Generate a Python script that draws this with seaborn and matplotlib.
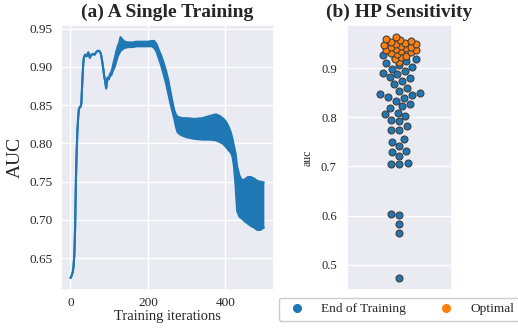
import numpy as np
import pandas as pd
import matplotlib
matplotlib.use("Agg")
import matplotlib.pyplot as plt
from matplotlib.lines import Line2D
import seaborn as sns

# ---- (a) AUC over one training run: upper / lower envelope of the oscillating curve
iters = [0, 3, 6, 8, 10, 12, 14, 16, 18, 20, 22, 26, 28, 30, 33, 35, 38, 42, 46, 50,
         54, 58, 62, 66, 70, 74, 78, 81, 84, 87, 90, 92, 94, 96, 99, 102, 105, 108, 111, 114,
         118, 122, 126, 129, 132, 136, 140, 150, 160, 170, 180, 190, 200, 210, 216, 222, 228, 234, 240, 246,
         252, 258, 264, 268, 272, 276, 282, 290, 300, 320, 340, 360, 375, 385, 395, 402, 408, 414, 418, 422,
         426, 430, 436, 442, 450, 458, 466, 474, 482, 490, 499]
auc_upper = [0.624, 0.627, 0.632, 0.640, 0.655, 0.690, 0.750, 0.790, 0.818, 0.835, 0.846, 0.848, 0.852, 0.875, 0.905, 0.913, 0.916, 0.914, 0.919, 0.912,
             0.916, 0.917, 0.916, 0.919, 0.921, 0.921, 0.918, 0.910, 0.900, 0.888, 0.880, 0.872, 0.880, 0.886, 0.884, 0.891, 0.893, 0.898, 0.905, 0.911,
             0.920, 0.927, 0.932, 0.939, 0.937, 0.935, 0.933, 0.932, 0.932, 0.933, 0.933, 0.933, 0.933, 0.934, 0.934, 0.930, 0.922, 0.915, 0.906, 0.896,
             0.884, 0.868, 0.852, 0.843, 0.838, 0.835, 0.834, 0.833, 0.833, 0.832, 0.833, 0.836, 0.838, 0.836, 0.832, 0.828, 0.822, 0.814, 0.806, 0.796,
             0.787, 0.770, 0.758, 0.752, 0.753, 0.756, 0.756, 0.754, 0.751, 0.750, 0.749]
auc_lower = [0.624, 0.627, 0.632, 0.640, 0.655, 0.690, 0.750, 0.790, 0.818, 0.835, 0.846, 0.848, 0.852, 0.875, 0.905, 0.913, 0.916, 0.914, 0.919, 0.912,
             0.916, 0.917, 0.916, 0.919, 0.921, 0.921, 0.918, 0.910, 0.900, 0.888, 0.880, 0.872, 0.880, 0.886, 0.884, 0.889, 0.889, 0.893, 0.897, 0.900,
             0.907, 0.914, 0.918, 0.921, 0.922, 0.924, 0.925, 0.926, 0.926, 0.927, 0.927, 0.927, 0.927, 0.927, 0.925, 0.920, 0.911, 0.902, 0.891, 0.880,
             0.866, 0.852, 0.840, 0.832, 0.822, 0.815, 0.812, 0.810, 0.808, 0.806, 0.805, 0.805, 0.804, 0.802, 0.799, 0.795, 0.791, 0.788, 0.783, 0.770,
             0.745, 0.712, 0.704, 0.702, 0.698, 0.695, 0.692, 0.690, 0.687, 0.687, 0.690]

# ---- (b) final vs. best AUC across hyper-parameter settings
end_auc = [0.473, 0.564, 0.582, 0.601, 0.604, 0.704, 0.705, 0.706, 0.721, 0.729,
           0.731, 0.741, 0.750, 0.755, 0.774, 0.775, 0.782, 0.792, 0.795, 0.803,
           0.806, 0.809, 0.818, 0.823, 0.826, 0.834, 0.840, 0.842, 0.845, 0.848,
           0.850, 0.854, 0.860, 0.867, 0.873, 0.879, 0.881, 0.887, 0.890, 0.895,
           0.899, 0.903, 0.907, 0.911, 0.915, 0.918, 0.921, 0.926, 0.931, 0.936,
           0.941]
opt_auc = [0.912, 0.918, 0.922, 0.925, 0.928, 0.930, 0.932, 0.934, 0.936, 0.937,
           0.939, 0.940, 0.942, 0.943, 0.945, 0.946, 0.948, 0.950, 0.951, 0.953,
           0.955, 0.957, 0.960, 0.963]

legend_labels = ["End of Training", "Optimal"]

sns.set_theme(style="darkgrid")
plt.rcParams["font.family"] = ["Liberation Serif", "DejaVu Serif"]

blue = "#1f77b4"
orange = "#ff7f0e"
dot = 5.0  # marker diameter in points

fig = plt.figure(figsize=(5.18, 3.30), dpi=100)
ax1 = fig.add_axes([0.1174, 0.121, 0.4106, 0.803])
ax2 = fig.add_axes([0.669, 0.121, 0.203, 0.803])

# left panel
curve = pd.DataFrame({"iteration": iters, "upper": auc_upper, "lower": auc_lower})
sns.lineplot(data=curve, x="iteration", y="upper", ax=ax1, color=blue, linewidth=1.5)
sns.lineplot(data=curve, x="iteration", y="lower", ax=ax1, color=blue, linewidth=1.5)
ax1.fill_between(curve["iteration"], curve["lower"], curve["upper"], color=blue, linewidth=0)
ax1.set_xticks([0, 200, 400])
ax1.set_yticks([0.65, 0.70, 0.75, 0.80, 0.85, 0.90, 0.95])
ax1.set_yticklabels([f"{v:.2f}" for v in ax1.get_yticks()])
ax1.tick_params(axis="y", labelsize=9.5, length=0, pad=6)
ax1.tick_params(axis="x", labelsize=9.5, length=0, pad=5)
ax1.set_xlabel("Training iterations", fontsize=10.5, labelpad=1)
ax1.set_ylabel("AUC", fontsize=14, labelpad=4)
ax1.set_title("(a) A Single Training", fontsize=14, fontweight="bold")

# right panel
df_end = pd.DataFrame({"auc": end_auc})
df_opt = pd.DataFrame({"auc": opt_auc})
sns.swarmplot(data=df_end, y="auc", ax=ax2, color=blue, size=dot,
              edgecolor="#404040", linewidth=0.8)
# the "Optimal" swarm is packed with a tighter spacing, so its dots crowd together
sns.swarmplot(data=df_opt, y="auc", ax=ax2, color=orange, size=3.0,
              edgecolor="#404040", linewidth=0.8)
ax2.set_xticks([])
ax2.xaxis.grid(False)
ax2.set_xlim(-0.5, 0.5)
ax2.set_yticks([0.5, 0.6, 0.7, 0.8, 0.9])
ax2.tick_params(axis="y", labelsize=9, length=0, pad=7)
ax2.set_ylabel("auc", fontsize=8.5, labelpad=5)
ax2.set_xlabel("")
ax2.set_title("(b) HP Sensitivity", fontsize=14, fontweight="bold")

handles = [Line2D([], [], marker="o", linestyle="", color=blue, markersize=5.5),
           Line2D([], [], marker="o", linestyle="", color=orange, markersize=5.5)]
ax2.legend(handles, legend_labels, loc="upper center", bbox_to_anchor=(0.5, -0.003),
           ncol=2, fontsize=9.6, facecolor="white", edgecolor="0.8", framealpha=1)

# lay out the swarms once, then freeze the orange positions and enlarge its dots
fig.canvas.draw()
opt_points = ax2.collections[1]
if "draw" in vars(opt_points):
    del opt_points.draw
opt_points.set_sizes([dot ** 2])
ax2.set_ylim(ax2.get_ylim())

fig.savefig("out.png", dpi=100)
